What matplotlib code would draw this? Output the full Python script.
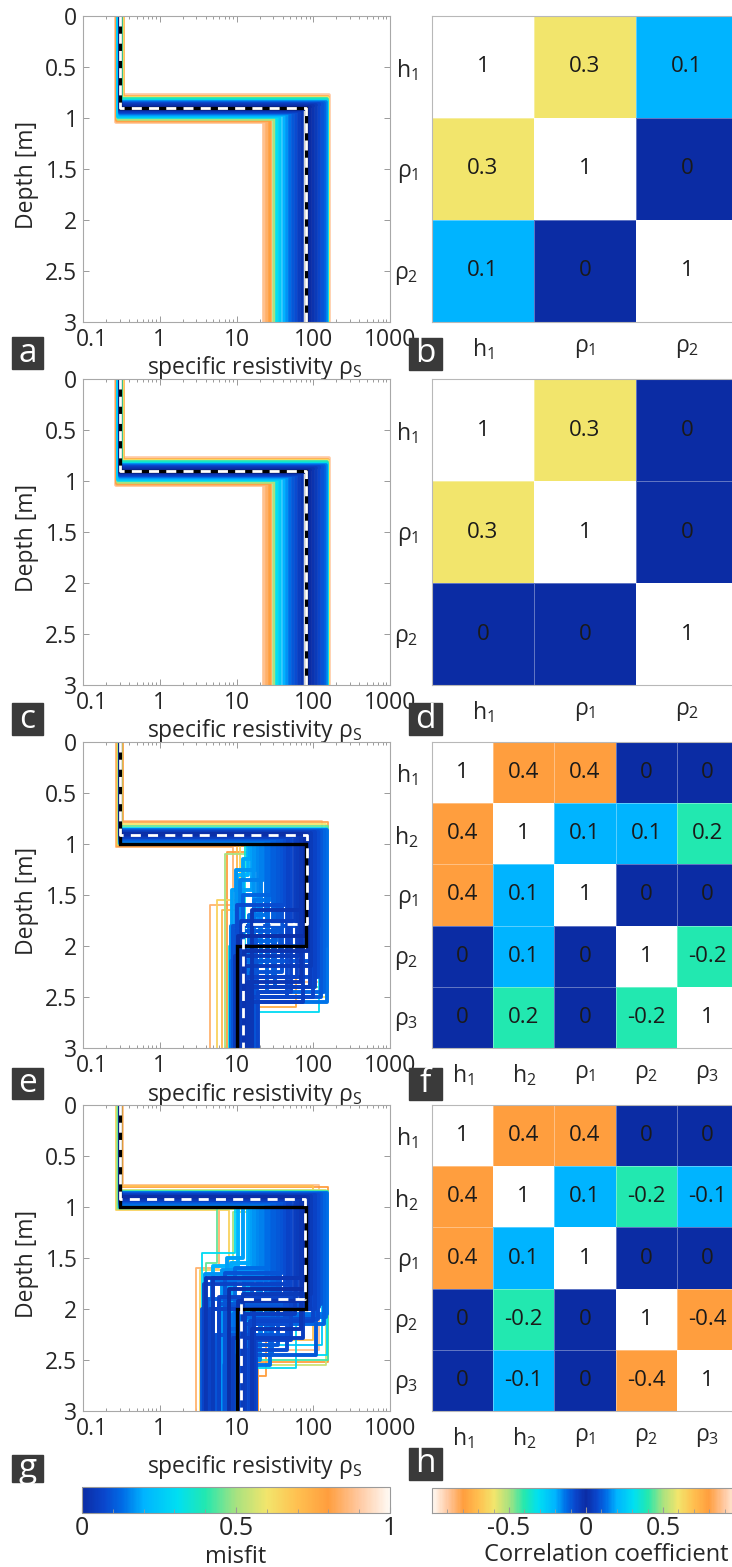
import numpy as np
import matplotlib.pyplot as plt
import matplotlib.ticker as mticker
from matplotlib.colors import LinearSegmentedColormap, Normalize
from matplotlib.cm import ScalarMappable
from matplotlib.patches import Rectangle
from matplotlib.transforms import ScaledTranslation

plt.rcParams['font.family'] = ['Open Sans', 'DejaVu Sans']
plt.rcParams['mathtext.fontset'] = 'custom'
plt.rcParams['mathtext.rm'] = 'Open Sans'
plt.rcParams['mathtext.it'] = 'Open Sans:italic'
plt.rcParams['mathtext.bf'] = 'Open Sans:bold'

# ---- two-layer ensemble (panels a and c) ----
tl_z1 = [0.775, 1.035, 1.025, 0.79, 1.015, 0.80, 1.005, 0.815, 0.99, 0.83, 0.98, 0.97, 0.96,
         0.845, 0.955, 0.855, 0.945, 0.86, 0.94, 0.865, 0.93, 0.87, 0.92, 0.88, 0.91, 0.89]
tl_rho1 = [0.28, 0.27, 0.275, 0.33, 0.28, 0.32, 0.285, 0.31, 0.29, 0.30, 0.29, 0.30, 0.30,
           0.30, 0.30, 0.30, 0.30, 0.30, 0.30, 0.30, 0.30, 0.30, 0.30, 0.30, 0.30, 0.30]
tl_rho2 = [162, 22.5, 25, 158, 27.5, 155, 31, 153, 34, 150, 37, 41, 45,
           148, 50, 140, 55, 130, 60, 120, 66, 110, 72, 100, 85, 92]
tl_misfit = [0.90, 0.88, 0.84, 0.75, 0.80, 0.60, 0.50, 0.38, 0.32, 0.30, 0.25, 0.20, 0.17,
             0.15, 0.13, 0.11, 0.10, 0.09, 0.08, 0.07, 0.05, 0.04, 0.03, 0.02, 0.01, 0.0]
tl_true_rho = [0.3, 80]
tl_true_z = [0.9]
tl_best_rho = [0.3, 80]
tl_best_z = [0.9]

# ---- three-layer ensemble, panel e (44 good fits, then 13 poor ones) ----
e_z1 = [0.86, 0.87, 0.87, 0.88, 0.88, 0.89, 0.90, 0.90, 0.91, 0.91, 0.92, 0.92, 0.93,
        0.93, 0.94, 0.94, 0.95, 0.95, 0.96, 0.96, 0.97, 0.97, 0.98, 0.98, 0.99, 0.99,
        0.87, 0.88, 0.89, 0.90, 0.91, 0.92, 0.93, 0.94, 0.95, 0.96, 0.97, 0.98, 0.97,
        0.96, 0.95, 0.93, 0.90, 0.88,
        0.84, 0.82, 0.80, 0.78, 0.77, 1.02, 1.03, 1.01, 1.00, 1.01, 0.99, 0.97, 0.96]
e_rho1 = [0.30] * 44 + [0.31, 0.31, 0.32, 0.33, 0.33, 0.28, 0.27, 0.29, 0.29, 0.28, 0.30, 0.30, 0.30]
e_z2 = [2.55, 2.45, 2.50, 2.30, 2.40, 2.20, 2.05, 1.90, 2.35, 2.10, 1.75, 2.45, 2.00,
        1.60, 2.25, 1.85, 2.40, 1.50, 2.15, 1.70, 1.35, 1.95, 1.25, 1.45, 1.15, 1.30,
        2.00, 1.80, 2.50, 1.65, 2.55, 2.30, 2.50, 2.05, 2.30, 2.45, 2.20, 2.05, 1.80,
        1.55, 1.95, 1.90, 2.40, 2.15,
        2.30, 2.40, 2.50, 2.45, 2.35, 1.08, 1.60, 1.55, 1.10, 1.65, 2.00, 2.65, 2.60]
e_rho2 = [152, 139, 126, 115, 104, 94, 85, 77, 70, 64, 58, 52, 47,
          43, 39, 35, 32, 29, 26, 24, 22, 20, 18, 16, 15, 14,
          145, 120, 99, 81, 73, 61, 45, 37, 30, 25, 21, 17, 19,
          27, 33, 50, 90, 110,
          150, 155, 145, 158, 130, 25, 9, 11, 20, 10, 13, 120, 60]
e_rho3 = [17, 15, 18, 13, 16, 11, 12.5, 10.5, 14, 9.5, 11.5, 19, 13,
          10, 15.5, 9, 17.5, 12, 8.5, 14.5, 11, 16.5, 9.8, 8.8, 12, 10.2,
          10, 9, 12, 16, 11, 13.5, 10.5, 12.5, 9.2, 15, 13.5, 11, 8.6,
          17, 16, 18, 9.8, 18.5,
          13, 16, 18, 15, 19, 7.5, 4.5, 5.5, 7.0, 6.5, 8, 19, 18.5]
e_misfit = [0.14, 0.12, 0.10, 0.08, 0.06, 0.04, 0.02, 0.01, 0.03, 0.04, 0.05, 0.07, 0.06,
            0.08, 0.09, 0.10, 0.11, 0.12, 0.13, 0.14, 0.15, 0.16, 0.17, 0.18, 0.19, 0.20,
            0.13, 0.09, 0.07, 0.03, 0.05, 0.06, 0.08, 0.10, 0.11, 0.13, 0.15, 0.17, 0.16,
            0.14, 0.12, 0.09, 0.05, 0.10,
            0.30, 0.45, 0.60, 0.82, 0.88, 0.80, 0.85, 0.65, 0.50, 0.72, 0.35, 0.30, 0.75]
e_true_rho = [0.3, 80, 10]
e_true_z = [1.0, 2.0]
e_best_rho = [0.3, 82, 12]
e_best_z = [0.91, 1.78]

# ---- three-layer ensemble, panel g (46 good fits, then 14 poor ones) ----
g_z1 = [0.86, 0.87, 0.87, 0.88, 0.88, 0.89, 0.90, 0.90, 0.91, 0.91, 0.92, 0.92, 0.93,
        0.93, 0.94, 0.94, 0.95, 0.95, 0.96, 0.96, 0.97, 0.97, 0.98, 0.98, 0.99, 0.99,
        0.99, 1.00,
        0.87, 0.88, 0.89, 0.90, 0.91, 0.92, 0.93, 0.94, 0.95, 0.96, 0.97, 0.98, 0.97,
        0.96, 0.95, 0.93, 0.90, 0.88,
        0.85, 0.86, 0.84, 0.83, 0.80, 0.78, 0.79, 1.02, 1.03, 1.01, 1.02, 1.00, 0.98, 1.00]
g_rho1 = [0.30] * 48 + [0.31, 0.31, 0.32, 0.33, 0.32, 0.28, 0.27, 0.29, 0.28, 0.29, 0.30, 0.30]
g_z2 = [2.05, 2.15, 1.95, 2.10, 2.00, 1.85, 1.92, 1.80, 2.20, 1.70, 2.05, 2.30, 1.75,
        2.15, 1.65, 2.35, 1.90, 2.45, 1.60, 2.25, 1.68, 2.50, 1.62, 2.40, 1.55, 2.60,
        1.50, 1.58,
        2.08, 1.98, 2.12, 1.70, 2.28, 1.88, 2.40, 2.00, 2.20, 1.72, 2.30, 1.66, 2.10,
        2.55, 1.78, 2.25, 2.00, 2.45,
        2.45, 2.35, 2.50, 2.55, 2.52, 2.40, 2.30, 1.60, 1.62, 1.55, 1.05, 2.66, 2.58, 1.45]
g_rho2 = [152, 139, 126, 115, 104, 94, 85, 77, 70, 64, 58, 52, 47,
          43, 39, 35, 32, 29, 26, 24, 22, 20, 18, 16, 15, 14,
          12, 10.5,
          145, 120, 99, 81, 73, 61, 45, 37, 30, 25, 21, 17, 19,
          27, 33, 50, 90, 110,
          150, 130, 155, 145, 158, 120, 100, 6, 8, 5.5, 25, 24, 60, 9.5]
g_rho3 = [9, 14, 6, 17, 4.5, 12, 10.5, 8, 16, 5, 13, 18, 3.8,
          11, 7, 15, 4.2, 17.5, 9.5, 5.5, 12.5, 16.5, 6.5, 10, 8.5, 18,
          7.5, 5.0,
          11, 7, 15, 4.0, 9, 6, 13.5, 3.6, 8, 4.8, 14.5, 3.9, 11.5,
          6.8, 16, 5.2, 17, 10,
          12, 16, 8, 17, 19, 15, 14, 3.0, 3.3, 4.0, 9, 19, 18, 3.6]
g_misfit = [0.14, 0.12, 0.10, 0.08, 0.06, 0.04, 0.02, 0.01, 0.03, 0.04, 0.05, 0.07, 0.06,
            0.08, 0.09, 0.10, 0.11, 0.12, 0.13, 0.14, 0.15, 0.16, 0.17, 0.18, 0.19, 0.20,
            0.18, 0.20,
            0.13, 0.09, 0.07, 0.03, 0.05, 0.06, 0.08, 0.10, 0.11, 0.13, 0.15, 0.17, 0.16,
            0.14, 0.12, 0.09, 0.05, 0.10,
            0.30, 0.25, 0.42, 0.55, 0.80, 0.88, 0.70, 0.85, 0.65, 0.45, 0.50, 0.80, 0.30, 0.30]
g_true_rho = [0.3, 80, 10]
g_true_z = [1.0, 2.0]
g_best_rho = [0.3, 78, 11.5]
g_best_z = [0.92, 1.90]

# ---- correlation matrices ----
names_2 = [r'$\mathrm{h_1}$', r'$\mathrm{\rho_1}$', r'$\mathrm{\rho_2}$']
names_3 = [r'$\mathrm{h_1}$', r'$\mathrm{h_2}$', r'$\mathrm{\rho_1}$', r'$\mathrm{\rho_2}$', r'$\mathrm{\rho_3}$']
corr_b = [[1, 0.3, 0.1], [0.3, 1, 0], [0.1, 0, 1]]
corr_d = [[1, 0.3, 0], [0.3, 1, 0], [0, 0, 1]]
corr_f = [[1, 0.4, 0.4, 0, 0],
          [0.4, 1, 0.1, 0.1, 0.2],
          [0.4, 0.1, 1, 0, 0],
          [0, 0.1, 0, 1, -0.2],
          [0, 0.2, 0, -0.2, 1]]
corr_h = [[1, 0.4, 0.4, 0, 0],
          [0.4, 1, 0.1, -0.2, -0.1],
          [0.4, 0.1, 1, 0, 0],
          [0, -0.2, 0, 1, -0.4],
          [0, -0.1, 0, -0.4, 1]]

# colour scale used for misfit and |correlation|
cm_pos = [0.0, 0.07, 0.13, 0.20, 0.31, 0.40, 0.50, 0.60, 0.70, 0.80, 0.90, 1.0]
cm_col = ['#0b2ca4', '#0a46cc', '#006ce6', '#00b4ff', '#00dff2', '#22e8b0',
          '#a8e280', '#f2e56c', '#ffc050', '#ff9e3e', '#ffc8a0', '#fffaf4']
misfit_cmap = LinearSegmentedColormap.from_list('misfit', list(zip(cm_pos, cm_col)))
corr_nodes = [((1 - p) / 2, c) for p, c in zip(cm_pos[::-1], cm_col[::-1])] + \
             [((1 + p) / 2, c) for p, c in zip(cm_pos[1:], cm_col[1:])]
corr_cmap = LinearSegmentedColormap.from_list('corr', corr_nodes)
cell_cmap = misfit_cmap.with_extremes(over='white')

W, H = 732, 1567
TXT = '#262626'
FS = 16.5
fig = plt.figure(figsize=(W / 100, H / 100), dpi=100)


def px_axes(x0, y0, w, h):
    return fig.add_axes([x0 / W, 1 - (y0 + h) / H, w / W, h / H])


def step_xy(rhos, bounds):
    x, y = [rhos[0]], [0]
    for i, z in enumerate(bounds):
        x += [rhos[i], rhos[i + 1]]
        y += [z, z]
    x.append(rhos[-1])
    y.append(3)
    return x, y


def draw_ensemble(ax, rho_cols, z_cols, misfit, lw_core, lw_fringe):
    misfit = np.asarray(misfit)
    for k in np.argsort(misfit, kind='stable')[::-1]:
        x, y = step_xy([c[k] for c in rho_cols], [c[k] for c in z_cols])
        lw = lw_core if misfit[k] < 0.25 else lw_fringe
        ax.plot(x, y, color=misfit_cmap(misfit[k]), lw=lw, solid_joinstyle='round')


def draw_models(ax, true_rho, true_z, best_rho, best_z):
    x, y = step_xy(true_rho, true_z)
    ax.plot(x, y, color='black', lw=2.4, solid_joinstyle='miter')
    x, y = step_xy(best_rho, best_z)
    ax.plot(x, y, color='white', lw=2.0, dashes=(3.6, 2.6))


def style_profile(ax, xlab_off):
    ax.set_xscale('log')
    ax.set_xlim(0.1, 1000)
    ax.set_ylim(3, 0)
    ax.set_xticks([0.1, 1, 10, 100, 1000])
    ax.set_xticklabels(['0.1', '1', '10', '100', '1000'])
    ax.xaxis.set_minor_locator(mticker.LogLocator(base=10, subs=np.arange(2, 10)))
    ax.xaxis.set_minor_formatter(mticker.NullFormatter())
    ax.set_yticks(np.arange(0, 3.01, 0.5))
    ax.set_yticklabels(['0', '0.5', '1', '1.5', '2', '2.5', '3'])
    ax.tick_params(which='both', direction='in', top=True, right=True,
                   color='#9a9a9a', labelcolor=TXT, labelsize=FS, width=0.7)
    ax.tick_params(which='major', length=4.5, pad=4)
    ax.tick_params(which='minor', length=2.5)
    # first x label sits a little right of its tick, clear of the "3"
    first = ax.get_xticklabels()[0]
    first.set_transform(first.get_transform() + ScaledTranslation(0.09, 0, fig.dpi_scale_trans))
    for s in ax.spines.values():
        s.set_color('#a8a8a8')
        s.set_linewidth(0.8)
    ax.set_ylabel('Depth [m]', fontsize=FS, color=TXT, va='center')
    ax.yaxis.set_label_coords(-56 / 307, 0.48)
    ax.set_xlabel(r'specific resistivity $\mathrm{\rho_S}$', fontsize=FS, color=TXT, va='center')
    ax.xaxis.set_label_coords(0.56, -xlab_off / 306)


def draw_matrix(ax, corr, names):
    m = np.asarray(corr, dtype=float)
    n = len(names)
    ax.pcolormesh(np.abs(m), cmap=cell_cmap, norm=Normalize(0, 0.5),
                  edgecolors=(1, 1, 1, 0.35), linewidth=0.6)
    ax.set_xlim(0, n)
    ax.set_ylim(n, 0)
    for i in range(n):
        for j in range(n):
            ax.text(j + 0.5, i + 0.5, f'{m[i, j]:g}', ha='center', va='center',
                    fontsize=16, color='#1a1a1a')
    ax.set_xticks(np.arange(n) + 0.5)
    ax.set_xticklabels(names)
    ax.set_yticks(np.arange(n) + 0.5)
    ax.set_yticklabels(names)
    ax.tick_params(length=0, labelsize=FS, labelcolor=TXT)
    ax.tick_params(axis='x', pad=10)
    ax.tick_params(axis='y', pad=10)
    for s in ax.spines.values():
        s.set_color('#b8b8b8')
        s.set_linewidth(0.8)


def panel_tag(x0, y0, w, h, letter):
    fig.patches.append(Rectangle((x0 / W, 1 - (y0 + h) / H), w / W, h / H,
                                 transform=fig.transFigure, color='#3a3a3a', zorder=5))
    fig.text((x0 + w / 2) / W, 1 - (y0 + h / 2) / H, letter, color='white',
             fontsize=24, ha='center', va='center', zorder=6)


tops = [16, 379, 742, 1105]
ensembles = [
    ([tl_rho1, tl_rho2], [tl_z1], tl_misfit, (tl_true_rho, tl_true_z, tl_best_rho, tl_best_z), 2.6, 2.6),
    ([tl_rho1, tl_rho2], [tl_z1], tl_misfit, (tl_true_rho, tl_true_z, tl_best_rho, tl_best_z), 2.6, 2.6),
    ([e_rho1, e_rho2, e_rho3], [e_z1, e_z2], e_misfit, (e_true_rho, e_true_z, e_best_rho, e_best_z), 2.8, 1.3),
    ([g_rho1, g_rho2, g_rho3], [g_z1, g_z2], g_misfit, (g_true_rho, g_true_z, g_best_rho, g_best_z), 2.8, 1.3),
]
matrices = [(corr_b, names_2), (corr_d, names_2), (corr_f, names_3), (corr_h, names_3)]
xlab_offsets = [46, 46, 47, 56]

for top, (rho_cols, z_cols, mis, models, lwc, lwf), (corr, names), xoff in zip(
        tops, ensembles, matrices, xlab_offsets):
    ax = px_axes(83, top, 307, 306)
    draw_ensemble(ax, rho_cols, z_cols, mis, lwc, lwf)
    draw_models(ax, *models)
    style_profile(ax, xoff)
    axm = px_axes(432, top, 306, 306)
    draw_matrix(axm, corr, names)

for letter, (x0, y0, w, h) in zip('abcdefgh', [
        (12, 337, 31, 32), (409, 338, 33, 32),
        (12, 703, 31, 32), (409, 703, 33, 32),
        (12, 1068, 31, 31), (409, 1068, 33, 32),
        (12, 1455, 31, 27), (409, 1448, 33, 32)]):
    panel_tag(x0, y0, w, h, letter)

# colour bars
cax1 = px_axes(82, 1487, 308, 26)
cb1 = fig.colorbar(ScalarMappable(Normalize(0, 1), misfit_cmap), cax=cax1, orientation='horizontal')
cb1.set_ticks([0, 0.5, 1])
cb1.set_ticklabels(['0', '0.5', '1'])
cax2 = px_axes(432, 1488, 308, 25)
cb2 = fig.colorbar(ScalarMappable(Normalize(-1, 1), corr_cmap), cax=cax2, orientation='horizontal')
cb2.set_ticks([-0.5, 0, 0.5])
cb2.set_ticklabels(['-0.5', '0', '0.5'])
for cb in (cb1, cb2):
    cb.outline.set_edgecolor('#9a9a9a')
    cb.outline.set_linewidth(0.8)
    cb.ax.xaxis.set_minor_locator(mticker.MultipleLocator(0.1))
    cb.ax.tick_params(which='both', direction='in', color='#9a9a9a', labelsize=18,
                      labelcolor=TXT, pad=2)
    cb.ax.tick_params(which='major', length=4)
    cb.ax.tick_params(which='minor', length=3)
fig.text(236 / W, 1 - 1557 / H, 'misfit', fontsize=17, color=TXT, ha='center', va='center')
fig.text(606 / W, 1 - 1555 / H, 'Correlation coefficient', fontsize=17, color=TXT,
         ha='center', va='center')

fig.savefig('out.png', dpi=100)
